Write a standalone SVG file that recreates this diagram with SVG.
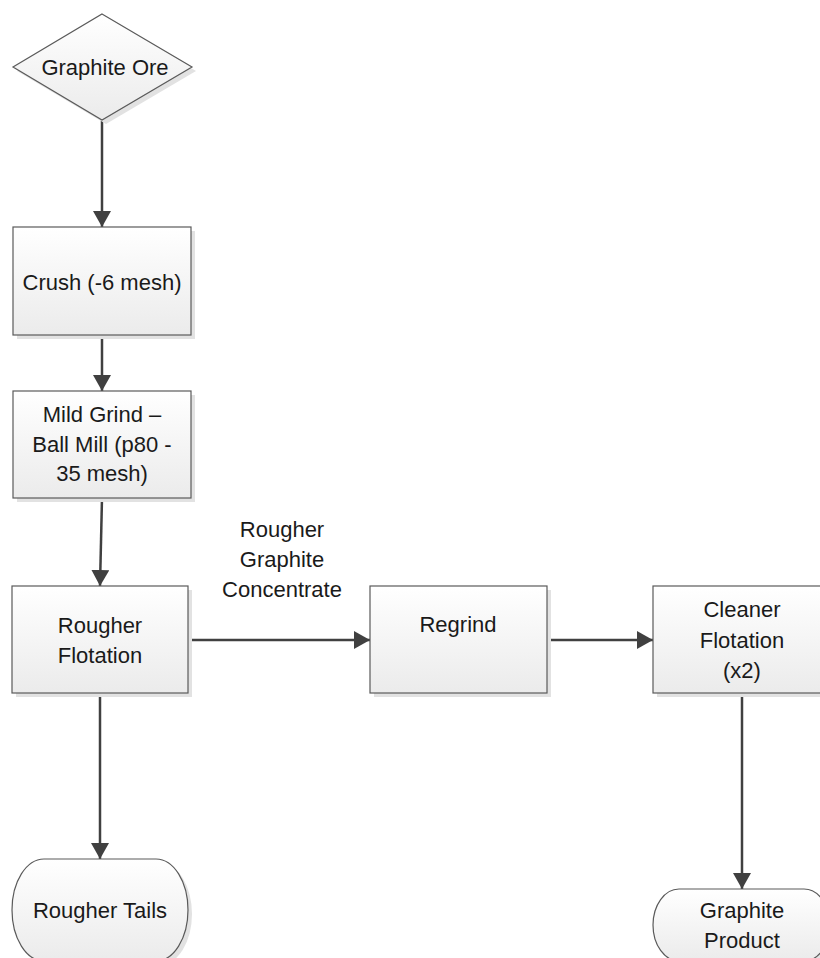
<svg xmlns="http://www.w3.org/2000/svg" width="820" height="958" viewBox="0 0 820 958">
<defs>
<linearGradient id="g" x1="0" y1="0" x2="0" y2="1">
<stop offset="0" stop-color="#ffffff"/>
<stop offset="1" stop-color="#ebebeb"/>
</linearGradient>
<marker id="arr" markerUnits="userSpaceOnUse" markerWidth="18" markerHeight="20" refX="16" refY="9" orient="auto">
<path d="M0,0 L16,9 L0,18 Z" fill="#404040"/>
</marker>
</defs>
<style>
.sh{fill:#e2e2e2;stroke:none}
.n{fill:url(#g);stroke:#5a5a5a;stroke-width:1.2}
.t{font-family:"Liberation Sans",Arial,sans-serif;font-size:22px;fill:#1a1a1a;text-anchor:middle}
.c{fill:none;stroke:#404040;stroke-width:2.5;marker-end:url(#arr)}
</style>
<rect width="820" height="958" fill="#ffffff"/>
<g id="connectors">
<line class="c" x1="102" y1="120" x2="102" y2="227"/>
<line class="c" x1="102" y1="335" x2="102" y2="391"/>
<line class="c" x1="102" y1="498" x2="100" y2="586"/>
<line class="c" x1="188" y1="640" x2="370" y2="640"/>
<line class="c" x1="547" y1="640" x2="653" y2="640"/>
<line class="c" x1="100" y1="693" x2="100" y2="859"/>
<line class="c" x1="742" y1="693" x2="742" y2="889"/>
</g>
<g id="graphite-ore">
<polygon class="sh" points="106,18 196,71 106,124 17,71"/>
<polygon class="n" points="102,14 192,67 102,120 13,67"/>
<text class="t" x="105" y="75">Graphite Ore</text>
</g>
<g id="crush">
<rect class="sh" x="17" y="231" width="178" height="108"/>
<rect class="n" x="13" y="227" width="178" height="108"/>
<text class="t" x="102" y="290">Crush (-6 mesh)</text>
</g>
<g id="mild-grind">
<rect class="sh" x="17" y="395" width="178" height="107"/>
<rect class="n" x="13" y="391" width="178" height="107"/>
<text class="t" x="102" y="422">Mild Grind –</text>
<text class="t" x="102" y="452">Ball Mill (p80 -</text>
<text class="t" x="102" y="481">35 mesh)</text>
</g>
<g id="rougher-flotation">
<rect class="sh" x="16" y="590" width="176" height="107"/>
<rect class="n" x="12" y="586" width="176" height="107"/>
<text class="t" x="100" y="633">Rougher</text>
<text class="t" x="100" y="663">Flotation</text>
</g>
<g id="label-concentrate">
<text class="t" x="282" y="537">Rougher</text>
<text class="t" x="282" y="567">Graphite</text>
<text class="t" x="282" y="597">Concentrate</text>
</g>
<g id="regrind">
<rect class="sh" x="374" y="590" width="177" height="107"/>
<rect class="n" x="370" y="586" width="177" height="107"/>
<text class="t" x="458" y="632">Regrind</text>
</g>
<g id="cleaner-flotation">
<rect class="sh" x="657" y="590" width="177" height="107"/>
<rect class="n" x="653" y="586" width="177" height="107"/>
<text class="t" x="742" y="617">Cleaner</text>
<text class="t" x="742" y="648">Flotation</text>
<text class="t" x="742" y="678">(x2)</text>
</g>
<g id="rougher-tails">
<rect class="sh" x="16" y="863" width="176" height="102" rx="32" ry="51"/>
<rect class="n" x="12" y="859" width="176" height="102" rx="32" ry="51"/>
<text class="t" x="100" y="918">Rougher Tails</text>
</g>
<g id="graphite-product">
<rect class="sh" x="657" y="893" width="177" height="72" rx="26" ry="36"/>
<rect class="n" x="653" y="889" width="177" height="72" rx="26" ry="36"/>
<text class="t" x="742" y="918">Graphite</text>
<text class="t" x="742" y="948">Product</text>
</g>
</svg>
